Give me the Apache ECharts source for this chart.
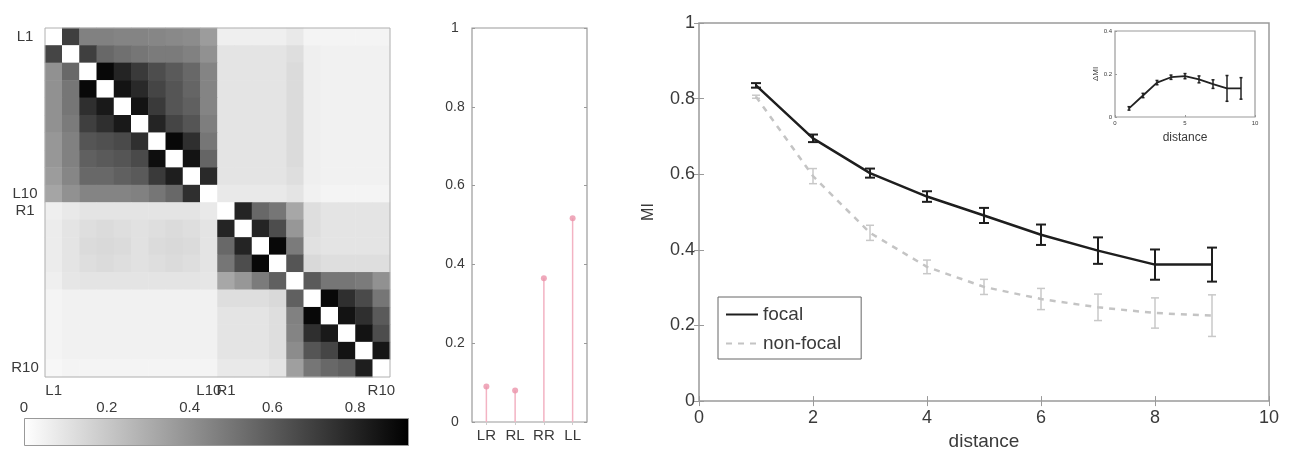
<!DOCTYPE html>
<html>
<head>
<meta charset="utf-8">
<script src="https://cdn.jsdelivr.net/npm/echarts@6/dist/echarts.min.js"></script>
<style>html,body{margin:0;padding:0;background:#fff;}#c{width:1291px;height:456px;}</style>
</head>
<body>
<div id="c"></div>
<script>
// ---------- data ----------
const nodeNames = ['L1','L2','L3','L4','L5','L6','L7','L8','L9','L10','R1','R2','R3','R4','R5','R6','R7','R8','R9','R10'];
const shownNodeLabels = ['L1','L10','R1','R10'];
const heatRows = [
  [0.00,0.70,0.46,0.46,0.45,0.45,0.44,0.43,0.42,0.36,0.06,0.06,0.06,0.06,0.08,0.04,0.04,0.04,0.04,0.04],
  [0.68,0.00,0.70,0.55,0.52,0.50,0.48,0.48,0.46,0.40,0.10,0.10,0.10,0.10,0.12,0.06,0.05,0.05,0.05,0.05],
  [0.40,0.55,0.00,0.90,0.80,0.72,0.65,0.60,0.55,0.45,0.10,0.10,0.10,0.10,0.13,0.06,0.05,0.05,0.05,0.05],
  [0.40,0.50,0.90,0.00,0.86,0.78,0.68,0.62,0.56,0.45,0.10,0.10,0.10,0.10,0.13,0.06,0.05,0.05,0.05,0.05],
  [0.40,0.50,0.76,0.84,0.00,0.86,0.72,0.62,0.58,0.45,0.10,0.10,0.10,0.10,0.13,0.06,0.05,0.05,0.05,0.05],
  [0.40,0.48,0.70,0.76,0.84,0.00,0.80,0.68,0.62,0.47,0.10,0.10,0.10,0.10,0.13,0.06,0.05,0.05,0.05,0.05],
  [0.38,0.46,0.62,0.64,0.66,0.76,0.00,0.90,0.76,0.50,0.10,0.10,0.10,0.10,0.13,0.06,0.05,0.05,0.05,0.05],
  [0.38,0.46,0.58,0.60,0.62,0.66,0.88,0.00,0.86,0.56,0.10,0.10,0.10,0.10,0.13,0.06,0.05,0.05,0.05,0.05],
  [0.36,0.44,0.55,0.55,0.58,0.60,0.72,0.82,0.00,0.78,0.10,0.10,0.10,0.10,0.12,0.06,0.05,0.05,0.05,0.05],
  [0.33,0.40,0.45,0.45,0.45,0.46,0.50,0.55,0.76,0.00,0.08,0.08,0.08,0.08,0.10,0.05,0.04,0.04,0.04,0.04],
  [0.06,0.08,0.10,0.10,0.10,0.10,0.10,0.10,0.10,0.08,0.00,0.80,0.55,0.50,0.32,0.12,0.10,0.10,0.10,0.10],
  [0.07,0.10,0.12,0.13,0.12,0.11,0.12,0.13,0.12,0.10,0.80,0.00,0.80,0.65,0.38,0.12,0.10,0.10,0.10,0.10],
  [0.07,0.10,0.13,0.14,0.13,0.11,0.13,0.14,0.13,0.10,0.55,0.80,0.00,0.90,0.48,0.11,0.10,0.10,0.10,0.10],
  [0.07,0.10,0.12,0.13,0.12,0.11,0.12,0.13,0.12,0.10,0.50,0.65,0.90,0.00,0.62,0.14,0.12,0.12,0.12,0.12],
  [0.06,0.09,0.10,0.10,0.10,0.10,0.10,0.10,0.10,0.09,0.32,0.38,0.48,0.58,0.00,0.60,0.50,0.50,0.48,0.40],
  [0.04,0.05,0.05,0.05,0.05,0.05,0.05,0.05,0.05,0.05,0.12,0.12,0.12,0.14,0.58,0.00,0.90,0.76,0.66,0.50],
  [0.04,0.05,0.05,0.05,0.05,0.05,0.05,0.05,0.05,0.05,0.10,0.10,0.10,0.12,0.46,0.90,0.00,0.86,0.76,0.60],
  [0.04,0.05,0.05,0.05,0.05,0.05,0.05,0.05,0.05,0.05,0.10,0.10,0.10,0.12,0.45,0.76,0.84,0.00,0.86,0.65],
  [0.04,0.05,0.05,0.05,0.05,0.05,0.05,0.05,0.05,0.05,0.10,0.10,0.10,0.12,0.42,0.62,0.68,0.86,0.00,0.85],
  [0.03,0.04,0.04,0.04,0.04,0.04,0.04,0.04,0.04,0.04,0.08,0.08,0.08,0.10,0.35,0.50,0.55,0.58,0.82,0.00]
];
const colorMin = 0;
const colorMax = 0.93;

const stemCats = ['LR','RL','RR','LL'];
const stemVals = [0.09, 0.08, 0.365, 0.517];

const distances   = [1, 2, 3, 4, 5, 6, 7, 8, 9];
const focalMI     = [0.835, 0.695, 0.603, 0.541, 0.491, 0.440, 0.398, 0.361, 0.361];
const focalErr    = [0.006, 0.010, 0.012, 0.014, 0.020, 0.027, 0.035, 0.040, 0.045];
const nonfocalMI  = [0.805, 0.595, 0.445, 0.355, 0.302, 0.270, 0.248, 0.233, 0.226];
const nonfocalErr = [0.004, 0.020, 0.020, 0.018, 0.020, 0.028, 0.035, 0.040, 0.055];
const deltaMI     = [0.040, 0.100, 0.160, 0.185, 0.190, 0.175, 0.153, 0.133, 0.133];
const deltaErr    = [0.008, 0.010, 0.010, 0.010, 0.012, 0.016, 0.020, 0.060, 0.050];

// ---------- helpers ----------
const FONT = 'Liberation Sans, Arial, sans-serif';
const TXT = '#3a3a3a';
const FRAME = '#9a9a9a';

function errBars(color, halfCap, lw) {
  return function (params, api) {
    const x = api.value(0), y = api.value(1), e = api.value(2);
    const hi = api.coord([x, y + e]);
    const lo = api.coord([x, y - e]);
    const style = { stroke: color, lineWidth: lw };
    return {
      type: 'group',
      children: [
        { type: 'line', shape: { x1: hi[0], y1: hi[1], x2: lo[0], y2: lo[1] }, style: style },
        { type: 'line', shape: { x1: hi[0] - halfCap, y1: hi[1], x2: hi[0] + halfCap, y2: hi[1] }, style: style },
        { type: 'line', shape: { x1: lo[0] - halfCap, y1: lo[1], x2: lo[0] + halfCap, y2: lo[1] }, style: style }
      ]
    };
  };
}

const heatData = [];
heatRows.forEach((row, r) => row.forEach((v, c) => heatData.push([c, r, v])));

const tickInside = (len) => ({ show: true, inside: true, length: len, lineStyle: { color: FRAME } });

const chart = echarts.init(document.getElementById('c'), null, { renderer: 'canvas' });

chart.setOption({
  backgroundColor: '#fff',
  textStyle: { fontFamily: FONT },
  animation: false,
  grid: [
    { left: 45, top: 28, width: 345, height: 349, show: true, borderColor: '#b0b0b0', borderWidth: 1, z: 5, backgroundColor: 'transparent' },
    { left: 24, top: 418, width: 385, height: 28 },
    { left: 472, top: 28, width: 115, height: 394, show: true, borderColor: FRAME, borderWidth: 1.2 },
    { left: 699, top: 23, width: 570, height: 381, show: true, borderColor: FRAME, borderWidth: 1.5 },
    { left: 1115, top: 31, width: 140, height: 86, show: true, borderColor: FRAME, borderWidth: 1.2, backgroundColor: '#fff' }
  ],
  visualMap: {
    type: 'continuous', show: false, seriesIndex: 0,
    min: colorMin, max: colorMax,
    inRange: { color: ['#ffffff', '#000000'] }
  },
  legend: {
    data: ['focal', 'non-focal'],
    orient: 'vertical',
    left: 718, top: 297,
    padding: [8, 20, 6, 7],
    itemGap: 10,
    itemWidth: 32, itemHeight: 14,
    itemStyle: { opacity: 0 },
    backgroundColor: '#fff',
    borderColor: '#666', borderWidth: 1,
    textStyle: { fontFamily: FONT, fontSize: 19, color: TXT, lineHeight: 18 }
  },
  xAxis: [
    { gridIndex: 0, type: 'category', data: nodeNames, position: 'bottom',
      axisLine: { show: false }, axisTick: { show: false },
      axisLabel: { interval: (i, v) => shownNodeLabels.indexOf(v) >= 0, margin: 6, fontSize: 15, color: TXT, fontFamily: FONT } },
    { gridIndex: 1, type: 'value', min: colorMin, max: colorMax, interval: 0.2, position: 'top',
      axisLine: { show: false }, axisTick: { show: false }, splitLine: { show: false },
      axisLabel: { showMaxLabel: false, margin: 3, fontSize: 15, color: TXT, fontFamily: FONT } },
    { gridIndex: 2, type: 'category', data: stemCats, position: 'bottom',
      axisLine: { show: false }, axisTick: { show: false },
      axisLabel: { margin: 6, fontSize: 15, color: TXT, fontFamily: FONT } },
    { gridIndex: 2, type: 'category', data: stemCats, position: 'top',
      axisLine: { show: false }, axisTick: { show: true, inside: true, length: 3, alignWithLabel: true, lineStyle: { color: '#ccc' } },
      axisLabel: { show: false } },
    { gridIndex: 3, type: 'value', min: 0, max: 10, interval: 2, position: 'bottom',
      name: 'distance', nameLocation: 'middle', nameGap: 28,
      nameTextStyle: { fontSize: 19, color: TXT, fontFamily: FONT },
      axisLine: { show: false }, axisTick: tickInside(5), splitLine: { show: false },
      axisLabel: { margin: 8, fontSize: 18, color: TXT, fontFamily: FONT } },
    { gridIndex: 3, type: 'value', min: 0, max: 10, interval: 2, position: 'top',
      axisLine: { show: false }, axisTick: tickInside(5), splitLine: { show: false }, axisLabel: { show: false } },
    { gridIndex: 4, type: 'value', min: 0, max: 10, interval: 5, position: 'bottom',
      name: 'distance', nameLocation: 'middle', nameGap: 15,
      nameTextStyle: { fontSize: 12, color: TXT, fontFamily: FONT },
      axisLine: { show: false }, axisTick: tickInside(2), splitLine: { show: false },
      axisLabel: { margin: 3, fontSize: 6, color: TXT, fontFamily: FONT } }
  ],
  yAxis: [
    { gridIndex: 0, type: 'category', data: nodeNames, inverse: true,
      axisLine: { show: false }, axisTick: { show: false },
      axisLabel: { interval: (i, v) => shownNodeLabels.indexOf(v) >= 0, margin: 20, align: 'center', fontSize: 15, color: TXT, fontFamily: FONT } },
    { gridIndex: 1, type: 'category', data: ['cb'], show: false },
    { gridIndex: 2, type: 'value', min: 0, max: 1, interval: 0.2, position: 'left',
      axisLine: { show: false }, axisTick: tickInside(3), splitLine: { show: false },
      axisLabel: { margin: 17, align: 'center', fontSize: 14, color: TXT, fontFamily: FONT } },
    { gridIndex: 2, type: 'value', min: 0, max: 1, interval: 0.2, position: 'right',
      axisLine: { show: false }, axisTick: tickInside(3), splitLine: { show: false }, axisLabel: { show: false } },
    { gridIndex: 3, type: 'value', min: 0, max: 1, interval: 0.2, position: 'left',
      name: 'MI', nameLocation: 'middle', nameGap: 42, nameRotate: 90,
      nameTextStyle: { fontSize: 16, color: TXT, fontFamily: FONT },
      axisLine: { show: false }, axisTick: tickInside(5), splitLine: { show: false },
      axisLabel: { margin: 4, fontSize: 18, color: TXT, fontFamily: FONT } },
    { gridIndex: 3, type: 'value', min: 0, max: 1, interval: 0.2, position: 'right',
      axisLine: { show: false }, axisTick: tickInside(5), splitLine: { show: false }, axisLabel: { show: false } },
    { gridIndex: 4, type: 'value', min: 0, max: 0.4, interval: 0.2, position: 'left',
      name: 'ΔMI', nameLocation: 'middle', nameGap: 13, nameRotate: 90,
      nameTextStyle: { fontSize: 8, color: TXT, fontFamily: FONT },
      axisLine: { show: false }, axisTick: tickInside(2), splitLine: { show: false },
      axisLabel: { margin: 3, fontSize: 6, color: TXT, fontFamily: FONT } }
  ],
  series: [
    { type: 'heatmap', xAxisIndex: 0, yAxisIndex: 0, data: heatData, progressive: 0 },
    { type: 'bar', xAxisIndex: 1, yAxisIndex: 1, data: [colorMax], barWidth: '100%', silent: true,
      itemStyle: {
        borderColor: '#999', borderWidth: 1,
        color: new echarts.graphic.LinearGradient(0, 0, 1, 0, [
          { offset: 0, color: '#ffffff' }, { offset: 1, color: '#000000' }
        ])
      } },
    { type: 'bar', xAxisIndex: 2, yAxisIndex: 2, data: stemVals, barWidth: 1.5,
      itemStyle: { color: '#f3b3c3' } },
    { type: 'scatter', xAxisIndex: 2, yAxisIndex: 2, data: stemVals, symbol: 'circle', symbolSize: 6,
      itemStyle: { color: '#eb93aa' } },
    { name: 'non-focal', type: 'line', xAxisIndex: 4, yAxisIndex: 4,
      data: distances.map((d, i) => [d, nonfocalMI[i]]), symbol: 'none',
      lineStyle: { color: '#c4c4c4', width: 2.5, type: [6, 6] }, itemStyle: { color: '#c4c4c4' } },
    { type: 'custom', xAxisIndex: 4, yAxisIndex: 4,
      data: distances.map((d, i) => [d, nonfocalMI[i], nonfocalErr[i]]),
      renderItem: errBars('#c8c8c8', 4, 1.5) },
    { name: 'focal', type: 'line', xAxisIndex: 4, yAxisIndex: 4,
      data: distances.map((d, i) => [d, focalMI[i]]), symbol: 'none',
      lineStyle: { color: '#1e1e1e', width: 2.5 }, itemStyle: { color: '#1e1e1e' } },
    { type: 'custom', xAxisIndex: 4, yAxisIndex: 4,
      data: distances.map((d, i) => [d, focalMI[i], focalErr[i]]),
      renderItem: errBars('#1e1e1e', 5, 2) },
    { type: 'line', xAxisIndex: 6, yAxisIndex: 6,
      data: distances.map((d, i) => [d, deltaMI[i]]), symbol: 'none',
      lineStyle: { color: '#222', width: 1.8 } },
    { type: 'custom', xAxisIndex: 6, yAxisIndex: 6,
      data: distances.map((d, i) => [d, deltaMI[i], deltaErr[i]]),
      renderItem: errBars('#222', 1.5, 1.5) }
  ]
});
</script>
</body>
</html>
